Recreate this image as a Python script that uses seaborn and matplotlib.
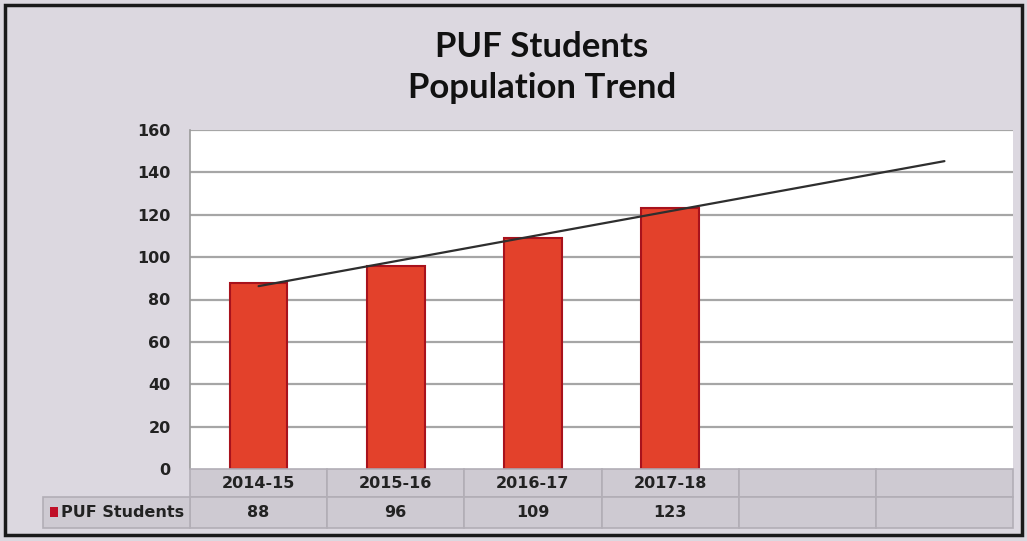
import numpy as np
import matplotlib
matplotlib.use("Agg")
import matplotlib.pyplot as plt
from matplotlib.patches import Rectangle
import seaborn as sns

# data
years = ["2014-15", "2015-16", "2016-17", "2017-18"]
students = [88, 96, 109, 123]
series_name = "PUF Students"
forecast_periods = 2  # Excel-style linear trendline, 2 periods forward
y_ticks = [0, 20, 40, 60, 80, 100, 120, 140, 160]

W, H = 1027, 541
BG = "#dcd8e0"
CELL = "#cecad2"
BAR = "#e3412b"
BAR_EDGE = "#a8121c"

sns.set_theme(style="white")
plt.rcParams["font.family"] = ["DejaVu Sans"]

fig = plt.figure(figsize=(W / 100, H / 100), dpi=100, facecolor=BG)


def fx(px):
    return px / W


def fy(py):
    return 1 - py / H


# plot area in pixel coords
x0, x1, ytop, ybot = 190, 1013, 130, 469
ax = fig.add_axes([fx(x0), fy(ybot), fx(x1) - fx(x0), fy(ytop) - fy(ybot)])
ax.set_facecolor("white")

n_slots = len(years) + forecast_periods
sns.barplot(x=list(range(len(years))), y=students, ax=ax, native_scale=True,
            color=BAR, edgecolor=BAR_EDGE, linewidth=1.5, width=0.42,
            saturation=1, zorder=3)

# linear trendline with forecast
xi = np.arange(1, len(students) + 1)
slope, icpt = np.polyfit(xi, students, 1)
xt = np.array([1, len(students) + forecast_periods])
ax.plot(xt - 1, slope * xt + icpt, color="#2e2e2e", lw=1.6, zorder=4)

ax.set_xlim(-0.5, n_slots - 0.5)
ax.set_ylim(0, 160)
ax.set_yticks(y_ticks)
ax.set_yticklabels([str(t) for t in y_ticks], fontsize=11.5, fontweight="bold",
                   color="#222222")
ax.tick_params(axis="y", length=0, pad=14)
ax.set_xticks([])
ax.set_xlabel("")
ax.set_ylabel("")
for t in y_ticks[1:]:
    ax.axhline(t, color="#a6a6a6", lw=1.6, zorder=1)
for side in ["top", "bottom", "right"]:
    ax.spines[side].set_visible(False)
ax.spines["left"].set_color("#9a9a9a")
ax.spines["left"].set_linewidth(1.2)

# title
fig.text(fx(542), fy(57), "PUF Students", ha="center", va="baseline",
         fontsize=25, fontweight="bold", family="Lato", color="#111111")
fig.text(fx(542), fy(98), "Population Trend", ha="center", va="baseline",
         fontsize=25, fontweight="bold", family="Lato", color="#111111")

# data table under the plot
col_w = (x1 - x0) / n_slots
r1_top, r1_bot = ybot, 497
r2_top, r2_bot = 497, 528
edge = "#b2aeb6"
for i in range(n_slots):
    cx = x0 + i * col_w
    for top, bot in [(r1_top, r1_bot), (r2_top, r2_bot)]:
        fig.patches.append(Rectangle((fx(cx), fy(bot)), fx(col_w), fy(top) - fy(bot),
                                     transform=fig.transFigure, facecolor=CELL,
                                     edgecolor=edge, lw=1.2))
    if i < len(years):
        fig.text(fx(cx + col_w / 2), fy((r1_top + r1_bot) / 2), years[i],
                 ha="center", va="center", fontsize=11.5, fontweight="bold",
                 color="#222222")
        fig.text(fx(cx + col_w / 2), fy((r2_top + r2_bot) / 2), str(students[i]),
                 ha="center", va="center", fontsize=11.5, fontweight="bold",
                 color="#222222")

# legend cell
fig.patches.append(Rectangle((fx(43), fy(r2_bot)), fx(x0 - 43), fy(r2_top) - fy(r2_bot),
                             transform=fig.transFigure, facecolor=CELL,
                             edgecolor=edge, lw=1.2))
fig.patches.append(Rectangle((fx(50), fy(517)), fx(8), fy(507) - fy(517),
                             transform=fig.transFigure, facecolor="#c01028",
                             edgecolor="none"))
fig.text(fx(61), fy((r2_top + r2_bot) / 2), series_name, ha="left", va="center",
         fontsize=11.5, fontweight="bold", color="#222222")

# outer frame
fig.patches.append(Rectangle((fx(5), fy(535)), fx(1017), fy(5) - fy(535),
                             transform=fig.transFigure, facecolor="none",
                             edgecolor="#1a1a1a", lw=2.5))

fig.savefig("out.png", dpi=100, facecolor=BG)
